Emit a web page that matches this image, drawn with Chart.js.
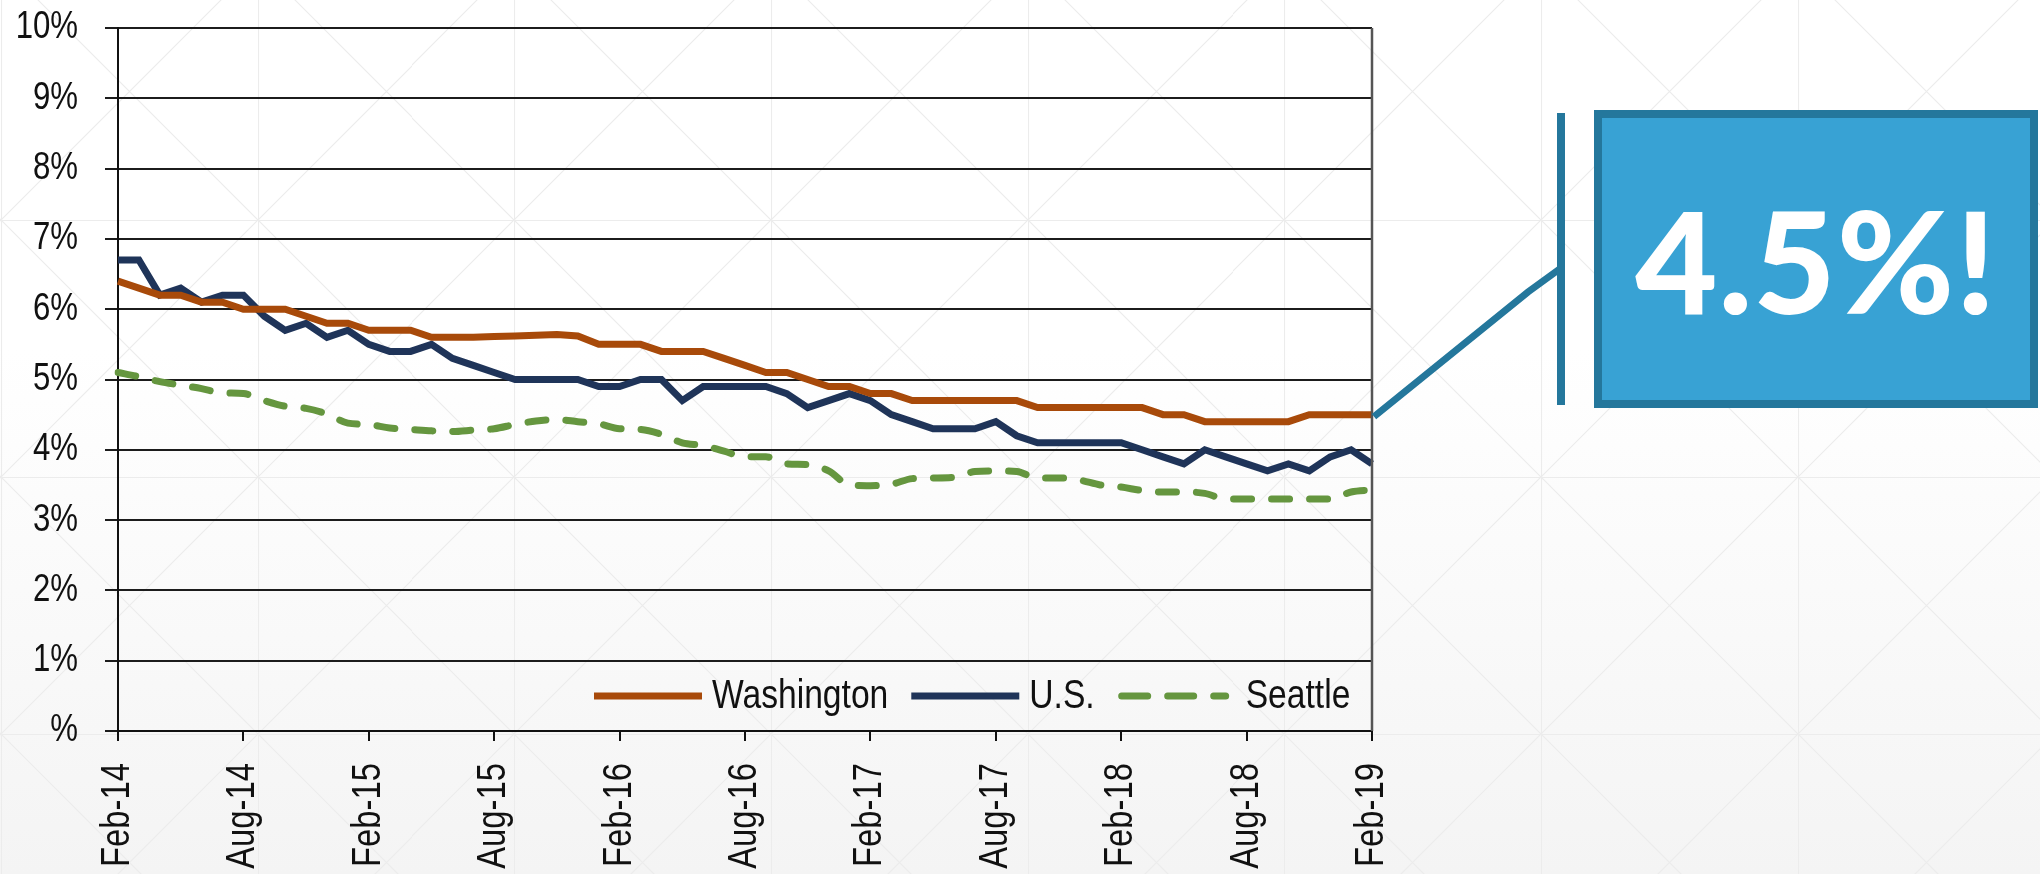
<!DOCTYPE html>
<html>
<head>
<meta charset="utf-8">
<script src="https://cdn.jsdelivr.net/npm/chart.js@4.4.1/dist/chart.umd.min.js"></script>
<style>
  html, body { margin: 0; padding: 0; }
  body {
    width: 2040px; height: 874px; overflow: hidden; position: relative;
    background:
      url("data:image/svg+xml,%3Csvg xmlns='http://www.w3.org/2000/svg' width='257' height='257'%3E%3Cg stroke='%23ececec' stroke-width='1.2' fill='none'%3E%3Cpath d='M0.5 0V257M0 0.5H257M0 0L257 257M257 0L0 257'/%3E%3C/g%3E%3C/svg%3E") 1px -37px / 256.7px 257px repeat,
      linear-gradient(to bottom, #ffffff 0%, #ffffff 40%, #f4f4f4 100%);
  }
  #c { position: absolute; left: 0; top: 0; }
  #callout {
    position: absolute; left: 1594px; top: 110px; width: 444px; height: 298px;
    box-sizing: border-box; border: 8px solid #24779c; background: #38a2d4;
    color: #fff; font-family: Lato, "Open Sans", sans-serif; font-weight: 900;
    font-size: 142px; line-height: 282px; text-align: center; letter-spacing: 1px;
  }
</style>
</head>
<body>
<canvas id="c" width="2040" height="874"></canvas>
<div id="callout">4.5%!</div>
<script>
const months = [
  'Feb-14','Mar-14','Apr-14','May-14','Jun-14','Jul-14','Aug-14','Sep-14','Oct-14','Nov-14','Dec-14',
  'Jan-15','Feb-15','Mar-15','Apr-15','May-15','Jun-15','Jul-15','Aug-15','Sep-15','Oct-15','Nov-15','Dec-15',
  'Jan-16','Feb-16','Mar-16','Apr-16','May-16','Jun-16','Jul-16','Aug-16','Sep-16','Oct-16','Nov-16','Dec-16',
  'Jan-17','Feb-17','Mar-17','Apr-17','May-17','Jun-17','Jul-17','Aug-17','Sep-17','Oct-17','Nov-17','Dec-17',
  'Jan-18','Feb-18','Mar-18','Apr-18','May-18','Jun-18','Jul-18','Aug-18','Sep-18','Oct-18','Nov-18','Dec-18',
  'Jan-19','Feb-19'
];
const xTickLabels = ['Feb-14','Aug-14','Feb-15','Aug-15','Feb-16','Aug-16','Feb-17','Aug-17','Feb-18','Aug-18','Feb-19'];
const yTickLabels = ['%','1%','2%','3%','4%','5%','6%','7%','8%','9%','10%'];

const washington = [
  6.4, 6.3, 6.2, 6.2, 6.1, 6.1, 6.0, 6.0, 6.0, 5.9, 5.8,
  5.8, 5.7, 5.7, 5.7, 5.6, 5.6, 5.6, 5.61, 5.62, 5.63, 5.64, 5.62,
  5.5, 5.5, 5.5, 5.4, 5.4, 5.4, 5.3, 5.2, 5.1, 5.1, 5.0, 4.9,
  4.9, 4.8, 4.8, 4.7, 4.7, 4.7, 4.7, 4.7, 4.7, 4.6, 4.6, 4.6,
  4.6, 4.6, 4.6, 4.5, 4.5, 4.4, 4.4, 4.4, 4.4, 4.4, 4.5, 4.5,
  4.5, 4.5
];
const us = [
  6.7, 6.7, 6.2, 6.3, 6.1, 6.2, 6.2, 5.9, 5.7, 5.8, 5.6,
  5.7, 5.5, 5.4, 5.4, 5.5, 5.3, 5.2, 5.1, 5.0, 5.0, 5.0, 5.0,
  4.9, 4.9, 5.0, 5.0, 4.7, 4.9, 4.9, 4.9, 4.9, 4.8, 4.6, 4.7,
  4.8, 4.7, 4.5, 4.4, 4.3, 4.3, 4.3, 4.4, 4.2, 4.1, 4.1, 4.1,
  4.1, 4.1, 4.0, 3.9, 3.8, 4.0, 3.9, 3.8, 3.7, 3.8, 3.7, 3.9,
  4.0, 3.8
];
const seattle = [
  5.1, 5.04, 4.97, 4.92, 4.87, 4.81, 4.8, 4.7, 4.62, 4.59, 4.51,
  4.38, 4.36, 4.31, 4.29, 4.27, 4.26, 4.28, 4.3, 4.36, 4.41, 4.43, 4.4,
  4.37, 4.3, 4.29, 4.22, 4.1, 4.06, 3.98, 3.9, 3.9, 3.8, 3.79, 3.7,
  3.5, 3.49, 3.51, 3.59, 3.6, 3.61, 3.69, 3.7, 3.69, 3.6, 3.6, 3.57,
  3.5, 3.47, 3.42, 3.4, 3.4, 3.38, 3.3, 3.3, 3.3, 3.3, 3.3, 3.3,
  3.4, 3.43
];

const FONT = '"Liberation Sans", Arial, sans-serif';
const NARROW_SCALE = 0.82;

const canvas = document.getElementById('c');
const ctx2d = canvas.getContext('2d');
// emulate a narrow (Arial Narrow-like) face by compressing glyphs along the text direction
const origFillText = ctx2d.fillText;
ctx2d.fillText = function (t, x, y, mw) {
  this.save();
  this.translate(x, y);
  this.scale(NARROW_SCALE, 1);
  origFillText.call(this, t, 0, 0);
  this.restore();
};

const decorPlugin = {
  id: 'decor',
  afterDraw(chart) {
    const ctx = chart.ctx;
    const a = chart.chartArea;
    ctx.save();
    // right plot border
    ctx.strokeStyle = '#555';
    ctx.lineWidth = 2.5;
    ctx.beginPath();
    ctx.moveTo(a.right, a.top);
    ctx.lineTo(a.right, a.bottom);
    ctx.stroke();

    // legend
    const ds = chart.data.datasets;
    ctx.font = '41px ' + FONT;
    ctx.textBaseline = 'middle';
    ctx.textAlign = 'left';
    let x = 594;
    const y = 696;
    ds.forEach((d) => {
      ctx.strokeStyle = d.borderColor;
      ctx.lineWidth = d.borderWidth;
      ctx.lineCap = d.borderDash ? 'round' : 'butt';
      ctx.setLineDash(d.borderDash ? [26, 20] : []);
      ctx.beginPath();
      ctx.moveTo(x + (d.borderDash ? 4 : 0), y);
      ctx.lineTo(x + 108, y);
      ctx.stroke();
      ctx.setLineDash([]);
      x += 108 + (d.borderDash ? 20 : 10);
      ctx.fillStyle = '#111';
      ctx.fillText(d.label, x, y + 1);
      x += ctx.measureText(d.label).width * NARROW_SCALE + 23;
    });

    // connector from last Washington point to callout
    const meta = chart.getDatasetMeta(0);
    const p = meta.data[meta.data.length - 1];
    ctx.strokeStyle = '#24779c';
    ctx.lineWidth = 7;
    ctx.lineCap = 'butt';
    ctx.lineJoin = 'miter';
    ctx.beginPath();
    ctx.moveTo(p.x + 2, p.y + 2);
    ctx.lineTo(1528, 292);
    ctx.lineTo(1561, 268);
    ctx.stroke();
    ctx.lineWidth = 8;
    ctx.beginPath();
    ctx.moveTo(1561, 113);
    ctx.lineTo(1561, 405);
    ctx.stroke();
    ctx.restore();
  }
};

new Chart(canvas, {
  type: 'line',
  data: {
    labels: months,
    datasets: [
      { label: 'Washington', data: washington, borderColor: '#a84a0a', borderWidth: 7,
        pointRadius: 0, tension: 0, fill: false },
      { label: 'U.S.', data: us, borderColor: '#1f3459', borderWidth: 7,
        pointRadius: 0, tension: 0, fill: false },
      { label: 'Seattle', data: seattle, borderColor: '#65963f', borderWidth: 7,
        borderDash: [18, 20], borderCapStyle: 'round', cubicInterpolationMode: 'monotone',
        pointRadius: 0, fill: false }
    ]
  },
  options: {
    responsive: false,
    devicePixelRatio: 1,
    animation: false,
    layout: { padding: { left: 0, right: 668, top: 28, bottom: 0 } },
    plugins: { legend: { display: false }, tooltip: { enabled: false } },
    scales: {
      x: {
        type: 'category',
        afterFit(s) { s.height = 143; s.paddingLeft = 0; s.paddingRight = 0; },
        grid: { drawOnChartArea: false, drawTicks: true, tickLength: 10, color: '#111', lineWidth: 2 },
        border: { display: true, color: '#111', width: 2 },
        ticks: {
          autoSkip: false, minRotation: 90, maxRotation: 90, padding: 22,
          color: '#111', font: { family: FONT, size: 40 },
          callback(v, i) { const l = months[i]; return xTickLabels.includes(l) ? l : null; }
        }
      },
      y: {
        min: 0, max: 10,
        afterFit(s) { s.width = 118; s.paddingTop = 0; s.paddingBottom = 0; },
        grid: { color: '#1c1c1c', lineWidth: 2, tickLength: 13 },
        border: { display: true, color: '#111', width: 2 },
        ticks: {
          stepSize: 1, padding: 27, color: '#111',
          font: { family: FONT, size: 38 },
          callback(v) { return yTickLabels[v]; }
        }
      }
    }
  },
  plugins: [decorPlugin]
});
</script>
</body>
</html>
